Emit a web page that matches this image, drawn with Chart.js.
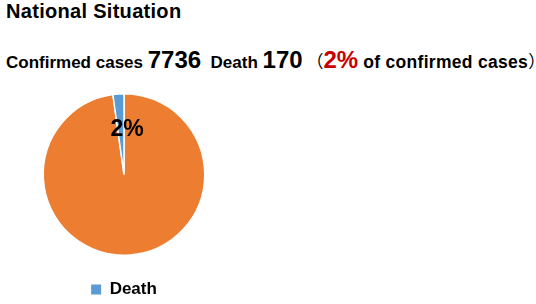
<!DOCTYPE html>
<html>
<head>
<meta charset="utf-8">
<script src="https://cdn.jsdelivr.net/npm/chart.js@4"></script>
<style>
  html, body { margin: 0; padding: 0; background: #fff; width: 536px; height: 304px; overflow: hidden; }
  body { position: relative; font-family: "Liberation Sans", Arial, sans-serif; font-weight: bold; color: #000; }
  .t { position: absolute; white-space: nowrap; line-height: 1; }
  #title { left: 6px; top: 1px; font-size: 20px; letter-spacing: 0.3px; }
  .s { font-size: 17px; }
  .s2 { font-size: 17.5px; letter-spacing: 0.3px; }
  .n { font-size: 24px; }
  .red { color: #C80000; }
  .p { font-family: "Noto Sans CJK SC", sans-serif; font-weight: normal; font-size: 17px; }
  #line2 { position: absolute; left: 6px; top: 48px; display: flex; align-items: baseline; white-space: nowrap; }
  #line2 span { line-height: 1; }
  #wrap { position: absolute; left: 0; top: 85px; width: 250px; height: 223px; }
</style>
</head>
<body>
<div class="t" id="title">National Situation</div>
<div id="line2"></div>
<div id="wrap"><canvas id="c"></canvas></div>
<script>
const categories = ["Others", "Death"];
const values = [7566, 170];
const confirmedCases = 7736;
const deaths = 170;
const deathShareLabel = "2%";
const colors = ["#ED7D31", "#5B9BD5"];

const line2 = document.getElementById('line2');
line2.innerHTML =
  '<span class="s">Confirmed cases&nbsp;</span>' +
  '<span class="n">' + confirmedCases + '</span>' +
  '<span class="s">&nbsp;&nbsp;Death&nbsp;</span>' +
  '<span class="n">' + deaths + '</span>' +
  '<span class="p">&nbsp;（</span>' +
  '<span class="n red">' + deathShareLabel + '</span>' +
  '<span class="s2">&nbsp;of confirmed cases</span>' +
  '<span class="p">）</span>';

const sliceLabel = {
  id: 'sliceLabel',
  afterDatasetsDraw(chart) {
    const arc = chart.getDatasetMeta(0).data[1];
    const ctx = chart.ctx;
    ctx.save();
    ctx.font = 'bold 23px "Liberation Sans", Arial, sans-serif';
    ctx.fillStyle = '#000';
    ctx.textAlign = 'center';
    ctx.textBaseline = 'middle';
    ctx.fillText(deathShareLabel, arc.x + 3, arc.y - arc.outerRadius * 0.55);
    ctx.restore();
  }
};

new Chart(document.getElementById('c'), {
  type: 'pie',
  data: {
    labels: categories,
    datasets: [{
      data: values,
      backgroundColor: colors,
      borderColor: '#ffffff',
      borderWidth: 1.5
    }]
  },
  options: {
    responsive: true,
    maintainAspectRatio: false,
    animation: false,
    layout: { padding: { top: 8, bottom: 0, left: 0, right: 2 } },
    plugins: {
      tooltip: { enabled: false },
      legend: {
        position: 'bottom',
        labels: {
          font: { family: '"Liberation Sans", Arial, sans-serif', size: 17, weight: 'bold' },
          color: '#000',
          boxWidth: 10,
          boxHeight: 10,
          padding: 25,
          filter: (item) => item.text === 'Death',
          generateLabels(chart) {
            const base = Chart.overrides.pie.plugins.legend.labels.generateLabels(chart);
            return base.map(item => Object.assign({}, item, { strokeStyle: 'rgba(0,0,0,0)', lineWidth: 0 }));
          }
        }
      }
    }
  },
  plugins: [sliceLabel]
});
</script>
</body>
</html>
